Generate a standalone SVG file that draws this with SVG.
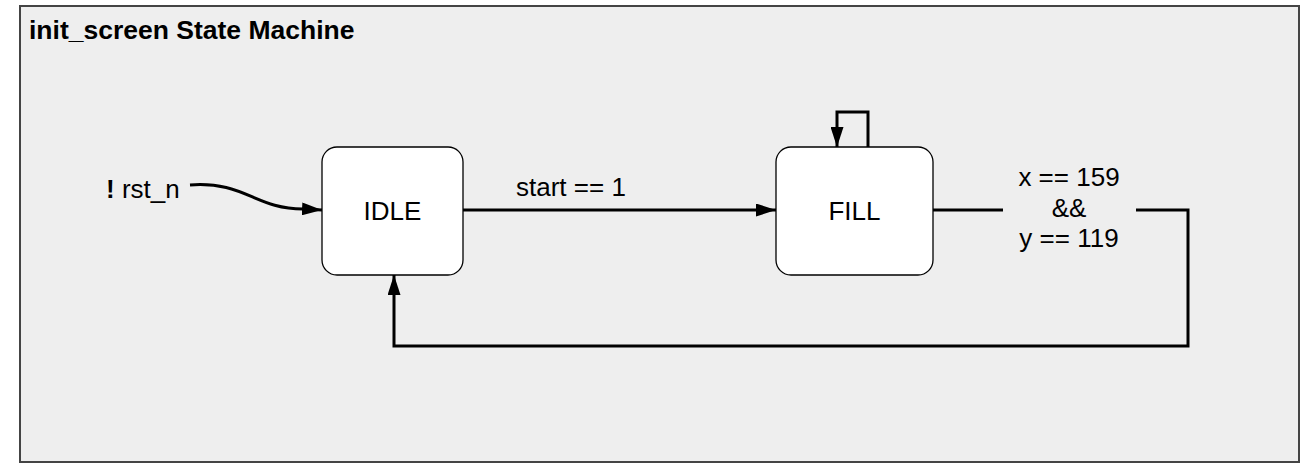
<svg xmlns="http://www.w3.org/2000/svg" width="1314" height="476" viewBox="0 0 1314 476">
<style>
text{font-family:"Liberation Sans",Arial,sans-serif;fill:#000;}
.lbl{font-size:26px;}
.title{font-size:26.5px;font-weight:bold;}
.node{fill:#fff;stroke:#000;stroke-width:1.3;}
.edge{fill:none;stroke:#000;stroke-width:3;}
</style>
<defs>
<marker id="arr" markerWidth="20" markerHeight="13" refX="20" refY="6.5" orient="auto" markerUnits="userSpaceOnUse">
<path d="M0,0 L20,6.5 L0,13 Z" fill="#000"/>
</marker>
</defs>
<rect width="1314" height="476" fill="#fff"/>
<g id="frame">
<rect x="20" y="6" width="1279" height="456" fill="#eeeeee" stroke="#444" stroke-width="2"/>
<text class="title" x="29" y="39">init_screen State Machine</text>
</g>
<g id="connectors">
<path class="edge" d="M190,185 C245,181 255,209 303,209 L322,210" marker-end="url(#arr)"/>
<path class="edge" d="M463,210 L776,210" marker-end="url(#arr)"/>
<path class="edge" d="M868,147 L868,112 L837,112 L837,147" marker-end="url(#arr)"/>
<path class="edge" d="M933,210 L1003,210"/>
<path class="edge" d="M1136,210 L1188,210 L1188,346 L394,346 L394,275" marker-end="url(#arr)"/>
<text class="lbl" x="106" y="198"><tspan font-weight="bold">!</tspan> rst_n</text>
<text class="lbl" x="516" y="196">start == 1</text>
<text class="lbl" x="1069" y="186" text-anchor="middle">x == 159</text>
<text class="lbl" x="1069" y="217" text-anchor="middle">&amp;&amp;</text>
<text class="lbl" x="1069" y="247" text-anchor="middle">y == 119</text>
</g>
<g id="IDLE">
<rect class="node" x="322" y="147" width="141" height="128" rx="15"/>
<text class="lbl" x="392.5" y="220" text-anchor="middle">IDLE</text>
</g>
<g id="FILL">
<rect class="node" x="776" y="147" width="157" height="128" rx="15"/>
<text class="lbl" x="854.5" y="220" text-anchor="middle">FILL</text>
</g>
</svg>
